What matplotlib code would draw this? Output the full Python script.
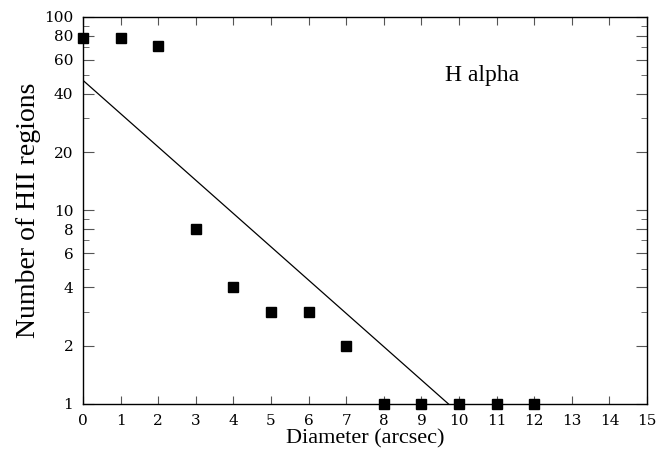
import matplotlib
matplotlib.use("Agg")
import matplotlib.pyplot as plt
from matplotlib.ticker import FixedLocator, NullFormatter

# data
diameter = [0, 1, 2, 3, 4, 5, 6, 7, 8, 9, 10, 11, 12]
n_regions = [78, 78, 71, 8, 4, 3, 3, 2, 1, 1, 1, 1, 1]

fit_x = [0, 9.72]
fit_y = [47, 1]

y_major = [1, 2, 4, 6, 8, 10, 20, 40, 60, 80, 100]
y_minor = [3, 5, 7, 9, 30, 50, 70, 90]
x_ticks = list(range(0, 16))

plt.rcParams["font.family"] = ["Liberation Serif", "DejaVu Serif"]

fig = plt.figure(figsize=(6.62, 4.57), dpi=100)
ax = fig.add_axes([0.1254, 0.116, 0.852, 0.847])

ax.plot(diameter, n_regions, "s", color="black", markersize=7, clip_on=False, zorder=3)
ax.plot(fit_x, fit_y, "-", color="black", linewidth=0.9)

ax.set_yscale("log")
ax.set_xlim(0, 15)
ax.set_ylim(1, 100)

ax.yaxis.set_major_locator(FixedLocator(y_major))
ax.yaxis.set_minor_locator(FixedLocator(y_minor))
ax.set_yticklabels([str(v) for v in y_major])
ax.yaxis.set_minor_formatter(NullFormatter())
ax.set_xticks(x_ticks)

ax.tick_params(axis="both", which="both", direction="in", top=True, right=True,
               color="#555555", labelsize=11, labelfontfamily="DejaVu Serif")
ax.tick_params(axis="y", which="major", length=8, pad=7)
ax.tick_params(axis="y", which="minor", length=4.5)
ax.tick_params(axis="x", which="major", length=6, pad=7)

for sp in ax.spines.values():
    sp.set_linewidth(1.0)

ax.text(10.6, 50, "H alpha", fontsize=17, ha="center", va="center")

ax.set_xlabel("Diameter (arcsec)", fontsize=16, labelpad=1)
ax.set_ylabel("Number of HII regions", fontsize=20, labelpad=2)

fig.savefig("out.png", dpi=100)
